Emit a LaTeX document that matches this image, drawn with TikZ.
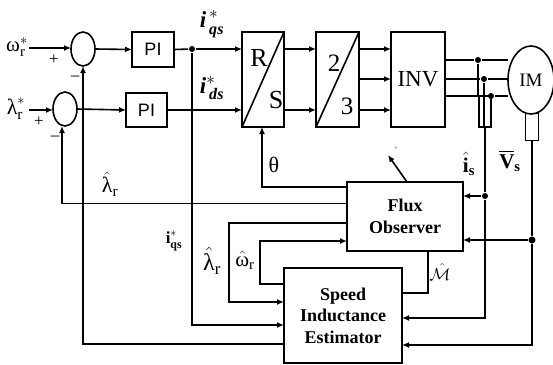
\documentclass[tikz,border=0pt]{standalone}
\usepackage{fontspec}
\usepackage{amsmath}
\setmainfont{Liberation Serif}
\setsansfont{Liberation Sans}
\usetikzlibrary{shapes.geometric,arrows.meta,calc}
\newcommand{\up}[1]{\text{#1}}
\tikzset{
  x=1pt,y=-1pt,
  every path/.style={line width=1.6pt},
  box/.style={draw,rectangle,inner sep=0pt,outer sep=0pt,anchor=center},
  sumnode/.style={draw,ellipse,inner sep=0pt,outer sep=0pt,minimum width=24pt,minimum height=34pt},
  conn/.style={-{Latex[length=7pt,width=6pt]}},
  wire/.style={line width=1.4pt},
  dot/.style={circle,fill=black,inner sep=0pt,minimum size=6pt},
  lbl/.style={inner sep=0pt}
}
\begin{document}
\begin{tikzpicture}
\useasboundingbox (0,0) rectangle (553,364);
% blocks
\node[sumnode] (s1) at (83,49) {};
\node[sumnode] (s2) at (65,109) {};
\node[box,minimum width=42pt,minimum height=35pt,font=\sffamily\fontsize{18}{18}\selectfont] (pi1) at (153,49.5) {PI};
\node[box,minimum width=41pt,minimum height=34pt,font=\sffamily\fontsize{18}{18}\selectfont] (pi2) at (146.5,110) {PI};
\node[box,minimum width=42pt,minimum height=95pt] (rs) at (263,79.5) {};
\node[box,minimum width=43pt,minimum height=95pt] (tt) at (337.5,79.5) {};
\node[box,minimum width=54pt,minimum height=95pt,font=\fontsize{23}{23}\selectfont] (inv) at (418,79.5) {INV};
\node[draw,ellipse,inner sep=0pt,outer sep=0pt,minimum width=46pt,minimum height=68pt,font=\fontsize{19}{19}\selectfont] (im) at (531,80) {IM};
\node[box,minimum width=13pt,minimum height=27pt] (foot) at (532,127) {};
\node[box,minimum width=12pt,minimum height=31pt] (sens) at (485,111.5) {};
\node[box,minimum width=116pt,minimum height=69pt,align=center,font=\bfseries\fontsize{18}{22}\selectfont] (flux) at (405,216.5) {Flux\\Observer};
\node[box,minimum width=118pt,minimum height=95pt,align=center,font=\bfseries\fontsize{18}{21.5}\selectfont] (est) at (343,315.5) {Speed\\Inductance\\Estimator};
% diagonals
\draw (rs.south west) -- (rs.north east);
\draw (tt.south west) -- (tt.north east);
% named junctions and ends
\coordinate (om) at (29,48);
\coordinate (la) at (29,110);
\node[dot] (d1) at (192,49) {};
\node[dot] (d2) at (478,60) {};
\node[dot] (d3) at (484,79) {};
\node[dot] (d4) at (491,96) {};
\node[dot] (d5) at (485,196) {};
\node[dot,minimum size=7pt] (d6) at (532,240) {};
% forward path
\draw[conn] (om) -- (s1.west |- om);
\draw[conn] (la) -- (s2.west |- la);
\draw[conn] (s1.east) -- (pi1.west);
\draw[conn] (s2.east) -- (pi2.west);
\draw (pi1.east) -- (d1);
\draw[conn] (d1) -- (rs.west |- d1);
\draw[conn] (pi2.east) -- (rs.west |- pi2.east);
\draw[conn] (rs.east |- d1) -- (tt.west |- d1);
\draw[conn] (rs.east |- pi2.east) -- (tt.west |- pi2.east);
\draw[conn] (tt.east |- d1) -- (inv.west |- d1);
\draw[conn] (tt.east |- d3) -- (inv.west |- d3);
\draw[conn] (tt.east |- pi2.east) -- (inv.west |- pi2.east);
% motor lines
\draw[wire] (inv.east |- d2) -- (d2) -- (im.west |- d2);
\draw[wire] (inv.east |- d3) -- (d3) -- (im.west |- d3);
\draw[wire] (inv.east |- d4) -- (d4) -- (im.west |- d4);
\draw[wire] (d2) -- (d2 |- sens.north);
\draw[wire] (d4) -- (d4 |- sens.north);
\draw[wire] (d3) -- (d3 |- sens.south);
% feedback
\coordinate (thj) at (262,187);
\draw[conn] (flux.west |- thj) -- (thj) -- (rs.south -| thj);
\draw[conn] (flux.west |- 0,203.5) -- (62,203.5) -- (s2.south -| 62,0);
\draw[conn] (flux.west |- 0,223) -- (229,223) -- (229,302) -- (est.west |- 0,302);
\draw[conn] (est.west |- 0,284) -- (260,284) -- (260,241) -- (flux.west |- 0,241);
\draw[conn] (d1) -- (192,325) -- (est.west |- 0,325);
\draw[conn] (est.west |- 0,344) -- (83,344) -- (s1.south);
\draw (428,251) -- (428,293) -- (est.east |- 0,293);
\draw[conn] (sens.south) -- (d5) -- (485,318) -- (est.east |- 0,318);
\draw[conn] (d5) -- (flux.east |- d5);
\draw[conn] (foot.south) -- (d6) -- (532,345) -- (est.east |- 0,345);
\draw[conn] (d6) -- (flux.east |- d6);
% slanted arrow
\coordinate (sl) at (388,155);
\draw[conn] (407,182) -- (sl);
\node[inner sep=0pt,font=\fontsize{8}{8}\selectfont] (tick) at (396,150) {'};
% labels
\node[lbl,font=\fontsize{21}{21}\selectfont] (l1) at (17,47) {$\up{ω}^{*}_{\up{r}}$};
\node[lbl,font=\fontsize{17}{17}\selectfont] (p1) at (54,60) {+};
\node[lbl,font=\fontsize{17}{17}\selectfont] (m1) at (75,78) {--};
\node[lbl,font=\fontsize{22}{22}\selectfont] (l2) at (16,109) {$\up{λ}^{*}_{\up{r}}$};
\node[lbl,font=\fontsize{17}{17}\selectfont] (p2) at (39,122) {+};
\node[lbl,font=\fontsize{17}{17}\selectfont] (m2) at (55,138) {--};
\node[lbl,font=\bfseries\fontsize{23}{23}\selectfont] (iq) at (212,24) {$\up{\itshape i}^{\,*}_{\,\up{\itshape qs}}$};
\node[lbl,font=\bfseries\fontsize{23}{23}\selectfont] (id) at (212,88) {$\up{\itshape i}^{*}_{\,\up{\itshape ds}}$};
\node[lbl,font=\fontsize{26}{26}\selectfont] (R) at (259,58) {R};
\node[lbl,font=\fontsize{26}{26}\selectfont] (S) at (276,100) {S};
\node[lbl,font=\fontsize{25}{25}\selectfont] (n2) at (334,63) {2};
\node[lbl,font=\fontsize{25}{25}\selectfont] (n3) at (347,106) {3};
\node[lbl,font=\fontsize{22}{22}\selectfont] (th) at (274,165) {θ};
\node[lbl,font=\fontsize{22}{22}\selectfont] (lh) at (110,184) {$\hat{\up{λ}}_{\up{r}}$};
\node[lbl,font=\bfseries\fontsize{21}{21}\selectfont] (is) at (469,164) {$\hat{\up{i}}_{\up{s}}$};
\node[lbl,font=\bfseries\fontsize{21}{21}\selectfont] (vs) at (510,161) {$\overline{\up{V}}_{\up{s}}$};
\node[lbl,font=\bfseries\fontsize{17}{17}\selectfont] (iq2) at (174,241) {$\up{i}^{*}_{\up{qs}}$};
\node[lbl,font=\fontsize{24}{24}\selectfont] (lh2) at (212,261) {$\hat{\up{λ}}_{\up{r}}$};
\node[lbl,font=\fontsize{21}{21}\selectfont] (oh) at (245,260) {$\hat{\up{ω}}_{\up{r}}$};
\node[lbl,font=\fontsize{17}{17}\selectfont] (mh) at (440,272) {$\hat{\mathcal{M}}$};
\end{tikzpicture}
\end{document}
